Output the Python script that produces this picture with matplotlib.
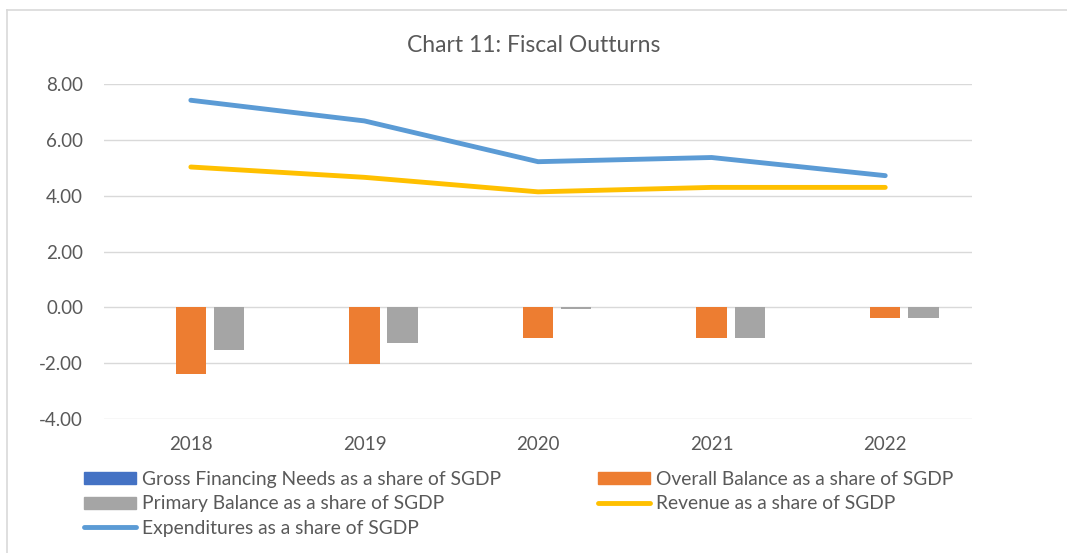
import matplotlib.pyplot as plt
import numpy as np
from matplotlib.patches import Patch
from matplotlib.lines import Line2D

plt.rcParams['font.family'] = ['Lato', 'DejaVu Sans']

years = ['2018', '2019', '2020', '2021', '2022']
gross_financing = [0, 0, 0, 0, 0]
overall_balance = [-2.39, -2.03, -1.10, -1.08, -0.39]
primary_balance = [-1.52, -1.29, -0.05, -1.08, -0.39]
revenue = [5.03, 4.66, 4.14, 4.30, 4.30]
expenditures = [7.42, 6.68, 5.22, 5.37, 4.72]

c_gross = '#4472C4'
c_overall = '#ED7D31'
c_primary = '#A5A5A5'
c_rev = '#FFC000'
c_exp = '#5B9BD5'
txt = '#595959'

fig = plt.figure(figsize=(10.67, 5.53), dpi=100)
ax = fig.add_axes([0.0975, 0.242, 0.8135, 0.606])

x = np.arange(len(years))
w = 0.175
off = 0.22
ax.bar(x - off, gross_financing, w, color=c_gross, zorder=2)
ax.bar(x, overall_balance, w, color=c_overall, zorder=2)
ax.bar(x + off, primary_balance, w, color=c_primary, zorder=2)
ax.plot(x, revenue, color=c_rev, lw=3.5, solid_capstyle='round', solid_joinstyle='round', zorder=3)
ax.plot(x, expenditures, color=c_exp, lw=3.5, solid_capstyle='round', solid_joinstyle='round', zorder=3)

ax.set_xlim(-0.5, len(years) - 0.5)
ax.set_ylim(-4, 8)
ax.set_yticks(np.arange(-4, 8.1, 2))
ax.set_yticklabels([f'{v:.2f}' for v in np.arange(-4, 8.1, 2)])
ax.set_xticks(x)
ax.set_xticklabels(years)
ax.tick_params(axis='both', length=0, labelsize=13.5, colors=txt)
ax.tick_params(axis='y', pad=15)
ax.tick_params(axis='x', pad=12)
ax.grid(axis='y', color='#D9D9D9', lw=1)
ax.set_axisbelow(True)
for s in ax.spines.values():
    s.set_visible(False)

fig.text(0.5, 0.917, 'Chart 11: Fiscal Outturns', ha='center', va='center', fontsize=16.5, color=txt)

handles = [
    Patch(color=c_gross, label='Gross Financing Needs as a share of SGDP'),
    Patch(color=c_primary, label='Primary Balance as a share of SGDP'),
    Line2D([], [], color=c_exp, lw=3.5, solid_capstyle='round', label='Expenditures as a share of SGDP'),
    Patch(color=c_overall, label='Overall Balance as a share of SGDP'),
    Line2D([], [], color=c_rev, lw=3.5, solid_capstyle='round', label='Revenue as a share of SGDP'),
]
leg = fig.legend(handles=handles, ncol=2, loc='upper left', bbox_to_anchor=(0.079, 0.148),
                 frameon=False, fontsize=13.9, handlelength=2.7, handleheight=0.6,
                 handletextpad=0.3, columnspacing=5.0, labelspacing=0.38,
                 borderaxespad=0, borderpad=0)
for t in leg.get_texts():
    t.set_color(txt)

# chart border (top and left visible)
fig.add_artist(Line2D([0.0066, 1.0], [0.982, 0.982], color='#D9D9D9', lw=1.2, transform=fig.transFigure))
fig.add_artist(Line2D([0.0066, 0.0066], [0.0, 0.982], color='#D9D9D9', lw=1.2, transform=fig.transFigure))

fig.savefig('out.png', dpi=100)
